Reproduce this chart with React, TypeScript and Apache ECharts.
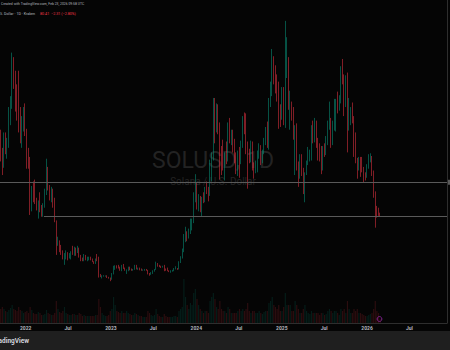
import React, { useEffect, useRef } from "react";
import * as echarts from "echarts";

// Weekly candles [open, close, low, high], weeks starting Monday 2021-09-13
const W2021 = [
  [172, 148, 140, 175], [148, 142, 125, 155], [142, 166, 133, 172], [166, 155, 148, 172],
  [155, 160, 143, 166], [160, 195, 155, 200], [195, 203, 180, 212], [203, 245, 198, 260],
  [245, 228, 220, 255], [228, 213, 195, 240], [213, 205, 185, 225], [205, 192, 172, 240],
  [192, 172, 160, 200], [172, 185, 155, 190], [185, 190, 173, 200], [190, 170, 168, 204],
];
const W2022 = [
  [170, 146, 132, 176], [146, 141, 132, 155], [141, 94, 81, 145], [94, 112, 85, 113],
  [112, 111, 95, 118], [111, 96, 93, 120], [96, 90, 86, 100], [90, 96, 77, 97],
  [96, 85, 84, 106], [85, 82, 79, 92], [82, 92, 79, 94], [92, 107, 89, 110],
  [107, 129, 103, 143], [129, 112, 108, 134], [112, 101, 97, 114], [101, 102, 95, 112],
  [102, 96, 89, 110], [96, 74, 73, 100], [74, 50, 37, 75], [50, 50, 47, 57],
  [50, 45, 40, 53], [45, 38, 37, 48], [38, 32, 32, 42], [32, 38, 26, 39],
  [38, 38, 32, 42], [38, 36, 31, 40], [36, 37, 33, 39], [37, 40, 32, 41],
  [40, 38, 37, 47], [38, 41, 36, 46], [41, 40, 36, 45], [40, 44, 39, 47],
  [44, 35, 34, 45], [35, 32, 30, 37], [32, 31, 30, 34], [31, 35, 30, 38],
  [35, 33, 31, 37], [33, 33, 30, 35], [33, 33, 31, 35], [33, 32, 31, 35],
  [32, 29, 29, 33], [29, 28, 27, 30], [28, 32, 27, 33], [32, 31, 30, 38],
  [31, 14, 12, 35], [14, 13, 12.5, 16], [13, 13.5, 11, 14.5], [13.5, 13.5, 13, 14.6],
  [13.5, 13.7, 13, 14.3], [13.7, 12.5, 11.5, 14.5], [12.5, 11.2, 10.8, 12.8], [11.2, 9.9, 8, 12],
];
const W2023 = [
  [9.9, 16.5, 9.6, 17], [16.5, 23.5, 15.5, 25], [23.5, 24.5, 20.5, 25.5], [24.5, 23.8, 22, 25.5],
  [23.8, 23, 22, 26], [23, 20.5, 19.5, 24], [20.5, 24, 19, 26], [24, 22, 21.5, 27],
  [22, 20, 19.5, 23], [20, 20.5, 16, 21], [20.5, 22, 19, 24], [22, 21, 20, 24],
  [21, 20.5, 19.5, 22], [20.5, 21, 19.5, 21.5], [21, 24.5, 20.5, 26], [24.5, 22, 21, 26],
  [22, 22.5, 20.5, 23], [22.5, 21, 20, 23], [21, 20.5, 19.5, 22], [20.5, 20.5, 19.5, 21],
  [20.5, 21, 19.5, 21.5], [21, 20, 19.5, 21.5], [20, 16, 15.5, 20.5], [16, 15.5, 14, 17],
  [15.5, 16.5, 15, 18], [16.5, 19, 16, 20], [19, 21, 18.5, 21.5], [21, 26, 20.5, 29.5],
  [26, 25, 24, 28], [25, 24.5, 23.5, 26], [24.5, 23.5, 22.5, 25], [23.5, 24.5, 23, 25],
  [24.5, 21, 19, 26], [21, 20.5, 19.5, 22], [20.5, 19.5, 19, 23], [19.5, 18.5, 18, 20],
  [18.5, 19.5, 17.3, 20], [19.5, 19.5, 18.5, 20.5], [19.5, 22.5, 19, 22.5], [22.5, 22.5, 21, 24.5],
  [22.5, 21.5, 20.5, 22.5], [21.5, 29, 21, 30], [29, 34, 28, 35.5], [34, 42, 33, 44],
  [42, 57, 40, 60], [57, 59, 51, 68], [59, 56, 52, 63], [56, 64, 55, 66],
  [64, 73, 60, 77], [73, 74, 64, 77], [74, 100, 72, 106], [100, 108, 95, 126],
];
const W2024 = [
  [108, 95, 87, 116], [95, 95, 85, 104], [95, 91, 84, 102], [91, 100, 79, 101],
  [100, 96, 94, 106], [96, 110, 95, 112], [110, 108, 104, 118], [108, 104, 96, 112],
  [104, 142, 102, 142], [142, 146, 118, 150], [146, 200, 141, 210], [200, 173, 160, 210],
  [173, 200, 172, 204], [200, 174, 170, 203], [174, 152, 120, 183], [152, 150, 125, 157],
  [150, 134, 130, 164], [134, 146, 119, 150], [146, 145, 137, 162], [145, 180, 140, 183],
  [180, 165, 160, 188], [165, 166, 158, 175], [166, 159, 150, 175], [159, 145, 138, 165],
  [145, 142, 126, 150], [142, 149, 124, 152], [149, 140, 122, 156], [140, 160, 137, 163],
  [160, 187, 155, 190], [187, 186, 170, 194], [186, 150, 148, 193], [150, 146, 110, 162],
  [146, 145, 138, 154], [145, 158, 139, 163], [158, 132, 130, 162], [132, 130, 121, 139],
  [130, 137, 127, 141], [137, 150, 128, 152], [150, 157, 143, 160], [157, 145, 136, 158],
  [145, 151, 138, 153], [151, 165, 148, 166], [165, 174, 158, 178], [174, 162, 155, 184],
  [162, 205, 153, 210], [205, 213, 200, 228], [213, 254, 212, 264], [254, 237, 225, 256],
  [237, 233, 215, 246], [233, 218, 206, 236], [218, 193, 176, 228], [193, 191, 178, 203],
  [191, 218, 186, 222],
];
const W2025 = [
  [218, 188, 180, 222], [188, 250, 177, 295], [250, 254, 232, 277], [254, 202, 197, 255],
  [202, 203, 175, 218], [203, 196, 185, 206], [196, 172, 164, 200], [172, 178, 125, 180],
  [178, 134, 130, 182], [134, 133, 112, 140], [133, 140, 121, 148], [140, 126, 124, 148],
  [126, 105, 104, 133], [105, 126, 95, 128], [126, 139, 125, 141], [139, 147, 136, 156],
  [147, 148, 140, 153], [148, 173, 141, 180], [173, 168, 160, 185], [168, 176, 161, 188],
  [176, 156, 155, 185], [156, 149, 141, 166], [149, 145, 140, 160], [145, 133, 126, 157],
  [133, 152, 130, 157], [152, 150, 145, 160], [150, 163, 147, 168], [163, 177, 158, 185],
  [177, 182, 175, 206], [182, 163, 155, 188], [163, 182, 158, 185], [182, 184, 174, 209],
  [184, 205, 173, 209], [205, 201, 193, 217], [201, 204, 196, 213], [204, 237, 204, 245],
  [237, 235, 225, 253], [235, 205, 190, 236], [205, 233, 200, 235], [233, 185, 150, 238],
  [185, 187, 174, 210], [187, 198, 180, 200], [198, 186, 182, 205], [186, 156, 145, 190],
  [156, 141, 138, 172], [141, 131, 121, 144], [131, 137, 130, 145], [137, 132, 123, 145],
  [132, 131, 128, 145], [131, 126, 117, 134], [126, 124, 119, 128], [124, 136, 122, 137],
];
const W2026 = [
  [136, 142, 132, 148], [142, 145, 139, 149], [145, 127, 124, 146], [127, 105, 100, 130],
  [105, 87, 67, 107], [87, 85, 78, 91], [85, 82.72, 80, 89], [82.72, 80.41, 79.5, 83.5],
];

// Relative weekly volume
const V2021 = [14, 16, 14, 12, 11, 13, 15, 18, 14, 13, 12, 16, 13, 12, 10, 11];
const V2022 = [12, 10, 16, 13, 10, 9, 9, 11, 10, 8, 8, 9, 13, 10, 9, 8, 8, 10, 22, 14, 11, 10, 12, 16, 10, 9, 8, 8, 9, 9, 8, 8, 10, 9, 7, 8, 7, 7, 7, 7, 7, 7, 8, 8, 24, 16, 10, 8, 7, 7, 8, 12];
const V2023 = [14, 26, 18, 12, 11, 10, 12, 10, 10, 12, 10, 9, 8, 8, 10, 9, 8, 7, 7, 6, 6, 6, 12, 10, 8, 7, 8, 14, 9, 7, 6, 6, 9, 7, 6, 6, 6, 6, 7, 7, 6, 12, 14, 16, 44, 26, 18, 14, 20, 18, 30, 34];
const V2024 = [24, 18, 14, 12, 10, 12, 12, 10, 22, 26, 30, 24, 16, 14, 22, 14, 12, 12, 10, 16, 14, 10, 10, 10, 10, 12, 14, 12, 14, 12, 14, 20, 12, 10, 12, 12, 10, 10, 12, 10, 9, 11, 12, 12, 20, 22, 26, 18, 16, 14, 18, 12, 12];
const V2025 = [16, 30, 18, 18, 18, 12, 12, 22, 18, 14, 10, 10, 14, 18, 12, 10, 9, 12, 10, 10, 10, 10, 8, 10, 10, 8, 9, 12, 14, 12, 10, 12, 12, 10, 8, 14, 12, 14, 10, 22, 14, 10, 10, 14, 12, 14, 10, 10, 9, 8, 7, 7];
const V2026 = [8, 9, 10, 14, 22, 12, 10, 4];

const FIRST_WEEK = "2021-09-13";
const X_MIN = "2021-09-13";
const X_MAX = "2026-12-09";
const TICK_DATES = ["2022-01-01", "2022-07-01", "2023-01-01", "2023-07-01", "2024-01-01", "2024-07-01", "2025-01-01", "2025-07-01", "2026-01-01", "2026-07-01"];
const TICK_LABELS = ["2022", "Jul", "2023", "Jul", "2024", "Jul", "2025", "Jul", "2026", "Jul"];

const LEVEL_HI = 117.0;
const RAY_START = "2022-03-20";
const RAY_LEVEL = 79.6;
const LAST_CLOSE = 80.41;
const CHANGE = "−2.31 (−2.80%)";

const Y_MIN = -38.1;
const Y_MAX = 318.0;

const UP = "#089981";
const DOWN = "#f23645";

const ts = (s: string) => {
  const [y, m, d] = s.split("-").map(Number);
  return Date.UTC(y, m - 1, d);
};

export default function App() {
  const ref = useRef<HTMLDivElement>(null);
  useEffect(() => {
    if (!ref.current) return;
    const chart = echarts.init(ref.current, undefined, { renderer: "svg" });
    const weeks = [...W2021, ...W2022, ...W2023, ...W2024, ...W2025, ...W2026];
    const vols = [...V2021, ...V2022, ...V2023, ...V2024, ...V2025, ...V2026];
    const day = 86400000;
    const t0 = ts(FIRST_WEEK);
    const candles = weeks.map((w, i) => [t0 + i * 7 * day + 3 * day, w[0], w[1], w[2], w[3]]);
    const volData = vols.map((v, i) => ({
      value: [t0 + i * 7 * day + 3 * day, v],
      itemStyle: { color: weeks[i][1] >= weeks[i][0] ? "rgba(8,153,129,0.16)" : "rgba(242,54,69,0.16)" },
    }));
    const tickVals = TICK_DATES.map(ts);
    const xMin = ts(X_MIN);
    const xMax = ts(X_MAX);

    chart.setOption({
      animation: false,
      backgroundColor: "#050505",
      grid: [
        { left: 0, right: 3, top: 0, height: 323 },
        { left: 0, right: 3, top: 223, height: 100 },
      ],
      xAxis: [
        {
          type: "value",
          gridIndex: 0,
          min: xMin,
          max: xMax,
          axisLine: { show: true, onZero: false, lineStyle: { color: "#2e2e2e", width: 1 } },
          axisTick: { show: false },
          splitLine: { show: false },
          axisLabel: {
            show: true,
            customValues: tickVals,
            formatter: (v: number) => {
              const idx = tickVals.indexOf(v);
              return idx >= 0 ? TICK_LABELS[idx] : "";
            },
            color: "#b2b5be",
            fontSize: 5,
            fontWeight: "bold",
            fontFamily: "Roboto",
            margin: 2,
            hideOverlap: false,
          },
        },
        { type: "value", gridIndex: 1, min: xMin, max: xMax, show: false },
      ],
      yAxis: [
        {
          type: "value",
          gridIndex: 0,
          position: "right",
          min: Y_MIN,
          max: Y_MAX,
          axisLine: { show: true, lineStyle: { color: "#2e2e2e" } },
          axisTick: { show: false },
          axisLabel: { show: false },
          splitLine: { show: false },
        },
        { type: "value", gridIndex: 1, min: 0, max: 100, show: false },
      ],
      series: [
        {
          type: "bar",
          xAxisIndex: 1,
          yAxisIndex: 1,
          data: volData,
          barWidth: 1.2,
          z: 1,
        },
        {
          type: "candlestick",
          xAxisIndex: 0,
          yAxisIndex: 0,
          data: candles,
          barWidth: 1.1,
          z: 3,
          itemStyle: {
            color: UP,
            color0: DOWN,
            borderColor: UP,
            borderColor0: DOWN,
            borderWidth: 0.6,
            opacity: 0.88,
          },
          markLine: {
            silent: true,
            symbol: ["none", "none"],
            animation: false,
            data: [
              {
                yAxis: LEVEL_HI,
                lineStyle: { color: "#5a5a5a", width: 1, type: "solid" },
                label: {
                  show: true,
                  position: "end",
                  distance: 1,
                  formatter: LEVEL_HI.toFixed(2),
                  color: "#ffffff",
                  backgroundColor: "#5a5a5a",
                  fontSize: 4,
                  padding: [0.5, 2],
                },
              },
              [
                {
                  coord: [ts(RAY_START), RAY_LEVEL],
                  lineStyle: { color: "#5a5a5a", width: 1, type: "solid" },
                  label: { show: false },
                },
                { coord: [xMax, RAY_LEVEL] },
              ],
              {
                yAxis: LAST_CLOSE,
                lineStyle: { opacity: 0 },
                label: {
                  show: true,
                  position: "end",
                  distance: 1,
                  formatter: LAST_CLOSE.toFixed(2),
                  color: "#ffffff",
                  backgroundColor: DOWN,
                  fontSize: 6,
                  padding: [1.5, 2],
                },
              },
            ],
          },
        },
      ],
      graphic: [
        {
          type: "text",
          z: 0,
          x: 213,
          y: 160,
          style: {
            text: "SOLUSD, 1D",
            textAlign: "center",
            textVerticalAlign: "middle",
            fill: "#232323",
            fontSize: 23,
            fontFamily: "Roboto",
          },
        },
        {
          type: "text",
          z: 0,
          x: 213,
          y: 181,
          style: {
            text: "Solana / U.S. Dollar",
            textAlign: "center",
            textVerticalAlign: "middle",
            fill: "#232323",
            fontSize: 10,
            fontFamily: "Roboto",
          },
        },
        {
          type: "text",
          z: 10,
          x: 1,
          y: 4,
          style: {
            text: "Created with TradingView.com, Feb 23, 2026 09:58 UTC",
            textAlign: "left",
            textVerticalAlign: "middle",
            fill: "#b2b5be",
            fontSize: 3.4,
            fontFamily: "Roboto",
          },
        },
        {
          type: "text",
          z: 10,
          x: 35,
          y: 13.5,
          style: {
            text: "Solana / U.S. Dollar · 1D · Kraken",
            textAlign: "right",
            textVerticalAlign: "middle",
            fill: "#b2b5be",
            fontSize: 3.7,
            fontFamily: "Roboto",
          },
        },
        {
          type: "text",
          z: 10,
          x: 40,
          y: 13.5,
          style: {
            text: LAST_CLOSE.toFixed(2) + "  " + CHANGE,
            textAlign: "left",
            textVerticalAlign: "middle",
            fill: DOWN,
            fontSize: 3.7,
            fontFamily: "Roboto",
          },
        },
        {
          type: "circle",
          z: 10,
          shape: { cx: 379.5, cy: 319, r: 2.4 },
          style: { fill: "none", stroke: "#9c27b0", lineWidth: 0.8 },
        },
        {
          type: "rect",
          z: 10,
          shape: { x: 0, y: 331, width: 450, height: 19 },
          style: { fill: "#1f1f1f" },
        },
        {
          type: "text",
          z: 11,
          x: 29,
          y: 341,
          style: {
            text: "TradingView",
            textAlign: "right",
            textVerticalAlign: "middle",
            fill: "#d1d4dc",
            fontSize: 6.5,
            fontWeight: "bold",
            fontFamily: "Roboto",
          },
        },
      ],
    });
    return () => chart.dispose();
  }, []);

  return (
    <div
      ref={ref}
      style={{ position: "fixed", left: 0, top: 0, width: 450, height: 350 }}
    />
  );
}
